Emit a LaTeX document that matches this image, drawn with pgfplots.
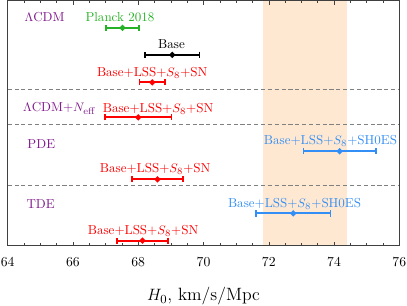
\documentclass[border=0pt]{standalone}
\usepackage{pgfplots}
\pgfplotsset{compat=1.18}
\usetikzlibrary{calc}
\definecolor{cpurple}{rgb}{0.5,0.1,0.55}
\definecolor{cgreen}{rgb}{0.15,0.7,0.15}
\definecolor{cblue}{rgb}{0.2,0.56,0.96}
\definecolor{cband}{rgb}{1,0.91,0.82}
\begin{document}
\begin{tikzpicture}[every node/.append style={font=\fontsize{9.5}{11}\selectfont}]
\begin{axis}[
  name=ax,
  scale only axis,
  width=286pt, height=179pt,
  xmin=64, xmax=76, ymin=0, ymax=245,
  y dir=reverse,
  xtick={64,66,...,76},
  minor x tick num=3,
  ytick=\empty,
  major tick length=3pt, minor tick length=2pt,
  axis line style={black!75},
  every tick/.style={black!75},
  axis on top,
  xticklabel style={font=\fontsize{10}{12}\selectfont, yshift=-5pt},
  xlabel={$H_0$, km/s/Mpc},
  xlabel style={font=\fontsize{13}{15}\selectfont, yshift=-8.5pt},
  clip=false,
  eb/.style={line width=1.4pt, mark=*, mark size=1.4pt, only marks,
    error bars/.cd, x dir=both, x explicit,
    error bar style={line width=1.4pt},
    error mark options={rotate=90, mark size=2.3pt, line width=1.1pt}},
]
\addplot[draw=none, fill=cband] coordinates {(71.82,0) (74.39,0) (74.39,245) (71.82,245)} -- cycle;
\addplot[gray, line width=0.6pt, dash pattern=on 3pt off 2pt] coordinates {(64,89.3) (76,89.3)};
\addplot[gray, line width=0.6pt, dash pattern=on 3pt off 2pt] coordinates {(64,124) (76,124)};
\addplot[gray, line width=0.6pt, dash pattern=on 3pt off 2pt] coordinates {(64,185) (76,185)};
% Planck
\addplot[cgreen, eb] coordinates {(67.52,27.3) +- (0.51,0)};
% Base
\addplot[black, eb] coordinates {(69.04,54.3) +- (0.84,0)};
% LCDM red
\addplot[red, eb] coordinates {(68.43,81.7) +- (0.385,0)};
% LCDM+Neff
\addplot[red, eb] coordinates {(68.0,116.7) +- (1.015,0)};
% PDE SH0ES
\addplot[cblue, eb] coordinates {(74.17,150.7) +- (1.11,0)};
% PDE red
\addplot[red, eb] coordinates {(68.59,178.7) +- (0.775,0)};
% TDE SH0ES
\addplot[cblue, eb] coordinates {(72.75,212.7) +- (1.135,0)};
% TDE red
\addplot[red, eb] coordinates {(68.13,240) +- (0.78,0)};
% labels
\node[cpurple] at (axis cs:65.13,17) {$\Lambda$CDM};
\node[cgreen] at (axis cs:67.44,17) {Planck 2018};
\node[black] at (axis cs:69.02,44) {Base};
\node[red] at (axis cs:68.43,72) {Base+LSS+$S_8$+SN};
\node[cpurple] at (axis cs:65.59,108) {$\Lambda$CDM+$N_{\rm eff}$};
\node[red] at (axis cs:68.61,108) {Base+LSS+$S_8$+SN};
\node[cpurple] at (axis cs:65.03,143) {PDE};
\node[cblue] at (axis cs:73.89,140) {Base+LSS+$S_8$+SH0ES};
\node[red] at (axis cs:68.52,168) {Base+LSS+$S_8$+SN};
\node[cpurple] at (axis cs:65.01,203) {TDE};
\node[cblue] at (axis cs:72.79,203) {Base+LSS+$S_8$+SH0ES};
\node[red] at (axis cs:68.15,230) {Base+LSS+$S_8$+SN};
\end{axis}
\pgfresetboundingbox
\path[use as bounding box] ($(ax.south west)+(-5.6pt,-44pt)$) rectangle ($(ax.north east)+(5.6pt,0.4pt)$);
\end{tikzpicture}
\end{document}
